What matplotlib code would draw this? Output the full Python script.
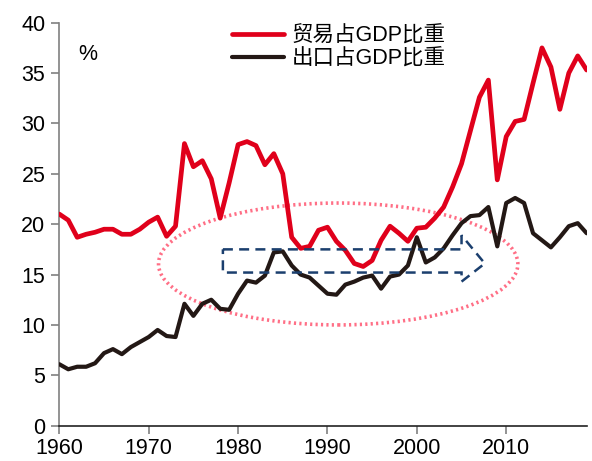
import matplotlib
matplotlib.use("Agg")
import matplotlib.pyplot as plt
from matplotlib.patches import Ellipse, Polygon

plt.rcParams['font.family'] = ['Liberation Sans', 'Noto Sans CJK SC', 'DejaVu Sans']

years = list(range(1960, 2020))
trade_gdp = [21.0, 20.4, 18.7, 19.0, 19.2, 19.5, 19.5, 19.0, 19.0, 19.5,
             20.2, 20.7, 18.8, 19.8, 28.0, 25.7, 26.3, 24.5, 20.6, 24.1,
             27.9, 28.2, 27.8, 25.9, 27.0, 25.0, 18.7, 17.6, 17.8, 19.4,
             19.7, 18.3, 17.4, 16.1, 15.8, 16.4, 18.4, 19.8, 19.1, 18.3,
             19.6, 19.7, 20.6, 21.7, 23.7, 26.0, 29.3, 32.6, 34.3, 24.4,
             28.7, 30.2, 30.4, 34.0, 37.5, 35.6, 31.4, 35.0, 36.7, 35.3]
export_gdp = [6.1, 5.6, 5.85, 5.85, 6.2, 7.2, 7.6, 7.1, 7.8, 8.3,
              8.8, 9.5, 8.9, 8.8, 12.1, 10.9, 12.1, 12.5, 11.6, 11.5,
              13.1, 14.4, 14.2, 14.9, 17.2, 17.3, 15.9, 15.0, 14.7, 13.9,
              13.1, 13.0, 14.0, 14.3, 14.7, 14.9, 13.6, 14.8, 15.0, 15.9,
              18.7, 16.2, 16.7, 17.6, 18.9, 20.1, 20.8, 20.9, 21.7, 17.8,
              22.1, 22.6, 22.1, 19.1, 18.4, 17.7, 18.7, 19.8, 20.1, 19.1]

labels = ['贸易占GDP比重', '出口占GDP比重']
xticks = [1960, 1970, 1980, 1990, 2000, 2010]
yticks = list(range(0, 45, 5))

# annotation shapes (data coordinates)
ell_center = (1991.2, 16.05)
ell_size = (40.2, 12.1)
arrow_pts = [(1978.3, 17.5), (2005.0, 17.5), (2005.0, 18.9), (2007.6, 16.1),
             (2005.0, 14.3), (2005.0, 15.2), (1978.3, 15.2)]

fig = plt.figure(figsize=(5.92, 4.61), dpi=100)
ax = fig.add_axes([0.1002, 0.0766, 0.8908, 0.8742])

ax.plot(years, trade_gdp, color='#E0001B', lw=3.4, solid_joinstyle='round',
        solid_capstyle='round', label=labels[0], zorder=3)
ax.plot(years, export_gdp, color='#231815', lw=3.0, solid_joinstyle='round',
        solid_capstyle='round', label=labels[1], zorder=3)

ell = Ellipse(ell_center, ell_size[0], ell_size[1], fill=False,
              edgecolor='#FF6F86', lw=2.6, linestyle=(0, (0.6, 0.9)), zorder=2)
ax.add_patch(ell)
arr = Polygon(arrow_pts, closed=True, fill=False, edgecolor='#1B3F6E',
              lw=1.8, linestyle=(0, (4, 2.5)), zorder=4)
ax.add_patch(arr)

ax.set_xlim(1960, 2019)
ax.set_ylim(0, 40)
ax.set_xticks(xticks)
ax.set_yticks(yticks)
ax.tick_params(axis='both', labelsize=15.5, length=6, width=1.2, color='#808080',
               direction='out')
ax.tick_params(axis='y', pad=4)
ax.tick_params(axis='x', pad=3)
for s in ['top', 'right']:
    ax.spines[s].set_visible(False)
ax.spines['left'].set_color('#808080')
ax.spines['bottom'].set_color('#222222')
ax.spines['left'].set_linewidth(1.2)
ax.spines['bottom'].set_linewidth(1.2)

ax.text(0.035, 0.922, '%', transform=ax.transAxes, fontsize=15.5,
        ha='left', va='center')

leg = ax.legend(loc='upper left', bbox_to_anchor=(0.312, 1.014), frameon=False,
                fontsize=15.5, handlelength=2.4, handletextpad=0.35,
                labelspacing=0.1, borderaxespad=0)

fig.savefig('out.png', dpi=100)
